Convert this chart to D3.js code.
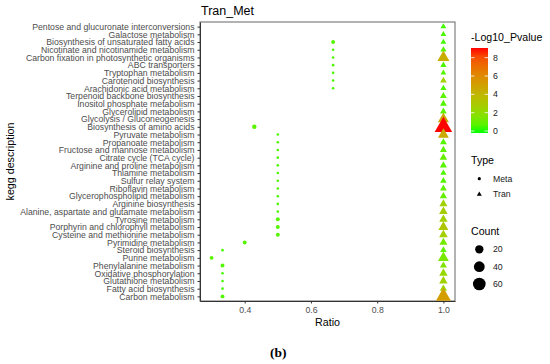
<!DOCTYPE html>
<html>
<head>
<meta charset="utf-8">
<script src="https://cdn.jsdelivr.net/npm/d3@7"></script>
<style>
body { margin: 0; background: #fff; }
text { font-family: "Liberation Sans", Arial, sans-serif; }
</style>
</head>
<body>
<script>
var pathways = ["Pentose and glucuronate interconversions", "Galactose metabolism", "Biosynthesis of unsaturated fatty acids",
	"Nicotinate and nicotinamide metabolism", "Carbon fixation in photosynthetic organisms", "ABC transporters",
	"Tryptophan metabolism", "Carotenoid biosynthesis", "Arachidonic acid metabolism", "Terpenoid backbone biosynthesis",
	"Inositol phosphate metabolism", "Glycerolipid metabolism", "Glycolysis / Gluconeogenesis", "Biosynthesis of amino acids",
	"Pyruvate metabolism", "Propanoate metabolism", "Fructose and mannose metabolism", "Citrate cycle (TCA cycle)",
	"Arginine and proline metabolism", "Thiamine metabolism", "Sulfur relay system", "Riboflavin metabolism",
	"Glycerophospholipid metabolism", "Arginine biosynthesis", "Alanine, aspartate and glutamate metabolism",
	"Tyrosine metabolism", "Porphyrin and chlorophyll metabolism", "Cysteine and methionine metabolism",
	"Pyrimidine metabolism", "Steroid biosynthesis", "Purine metabolism", "Phenylalanine metabolism",
	"Oxidative phosphorylation", "Glutathione metabolism", "Fatty acid biosynthesis", "Carbon metabolism"];

// Meta (metabolite) points
var metaPathways = pathways.slice(2, 9).concat(pathways.slice(13));
var metaRatio = [0.667, 0.667, 0.667, 0.667, 0.667, 0.667, 0.667,
	0.429, 0.5, 0.5, 0.5, 0.5, 0.5, 0.5, 0.5, 0.5, 0.5, 0.5, 0.5, 0.5, 0.5, 0.5,
	0.4, 0.333, 0.3, 0.333, 0.333, 0.333, 0.333, 0.333];
var metaCount = [2, 1, 1, 1, 1, 1, 1,
	3, 1, 1, 1, 1, 1, 1, 1, 1, 1, 1, 1, 2, 2, 2,
	2, 1, 2, 2, 1, 1, 1, 2];
var metaLogP = [0.6, 0.5, 0.5, 0.5, 0.5, 0.5, 0.5,
	0.7, 0.5, 0.5, 0.5, 0.5, 0.5, 0.5, 0.5, 0.5, 0.5, 0.5, 0.5, 0.6, 0.6, 0.6,
	0.6, 0.4, 0.7, 0.6, 0.4, 0.4, 0.4, 0.6];

// Tran (transcript) points, one per pathway
var tranRatio = pathways.map(function(){ return 1.0; });
var tranCount = [5, 5, 5, 6, 38, 6, 5, 7, 6, 8, 8, 8, 32, 99, 30, 8, 9, 11,
	9, 6, 7, 8, 10, 13, 16, 15, 24, 16, 13, 7, 30, 9, 15, 15, 10, 68];
var tranLogP = [0.4, 0.5, 0.4, 0.6, 4.5, 0.5, 0.6, 2.6, 0.5, 0.7, 0.6, 0.7, 4.8, 9.0, 4.6, 0.6, 0.8, 0.9,
	0.7, 0.5, 0.6, 0.8, 0.9, 2.5, 2.8, 2.6, 3.2, 2.7, 1.2, 0.8, 1.3, 1.5, 2.2, 2.5, 2.4, 5.2];

var xTicks = [0.4, 0.6, 0.8, 1.0];
var colorTicks = [0, 2, 4, 6, 8];
var countTicks = [20, 40, 60];
var typeLabels = ["Meta", "Tran"];

var width = 550, height = 364;
var margin = {top: 22, right: 95, bottom: 63, left: 200};

var svg = d3.select("body").append("svg")
	.attr("width", width)
	.attr("height", height);

var x = d3.scaleLinear()
	.domain([0.265, 1.035])
	.range([margin.left, width - margin.right]);

var y = d3.scalePoint()
	.domain(pathways)
	.range([margin.top, height - margin.bottom])
	.padding(0.6);

var color = d3.scaleLinear()
	.domain([0, 9])
	.range(["#00ff00", "#ff0000"])
	.interpolate(d3.interpolateLab);

// ggplot style area scale: size 1..6 over count range
var sizeScale = d3.scaleSqrt().domain([0, 98]).range([1, 6]);
function radius(c){ return 1.3 * sizeScale(c - 1); }
function triArea(c){ var w = 2.25 * radius(c); return Math.sqrt(3) / 4 * w * w; }

// panel
svg.append("rect")
	.attr("x", margin.left)
	.attr("y", margin.top)
	.attr("width", width - margin.right - margin.left)
	.attr("height", height - margin.bottom - margin.top)
	.attr("fill", "none")
	.attr("stroke", "#666")
	.attr("stroke-width", 1);

var meta = metaPathways.map(function(p, i){
	return {path: p, ratio: metaRatio[i], count: metaCount[i], logp: metaLogP[i]};
});
var tran = pathways.map(function(p, i){
	return {path: p, ratio: tranRatio[i], count: tranCount[i], logp: tranLogP[i]};
});

svg.selectAll(".meta")
	.data(meta)
	.enter()
	.append("circle")
	.attr("class", "meta")
	.attr("cx", function(d){ return x(d.ratio); })
	.attr("cy", function(d){ return y(d.path); })
	.attr("r", function(d){ return radius(d.count); })
	.attr("fill", function(d){ return color(d.logp); });

svg.selectAll(".tran")
	.data(tran)
	.enter()
	.append("path")
	.attr("class", "tran")
	.attr("transform", function(d){ return "translate(" + x(d.ratio) + "," + y(d.path) + ")"; })
	.attr("d", function(d){ return d3.symbol(d3.symbolTriangle, triArea(d.count))(); })
	.attr("fill", function(d){ return color(d.logp); });

// axes
var yAxis = svg.append("g")
	.attr("transform", "translate(" + margin.left + ",0)")
	.call(d3.axisLeft(y).tickSize(2.5).tickSizeOuter(0).tickPadding(3));

var xAxis = svg.append("g")
	.attr("transform", "translate(0," + (height - margin.bottom) + ")")
	.call(d3.axisBottom(x).tickValues(xTicks).tickFormat(d3.format(".1f")).tickSize(2.5).tickSizeOuter(0).tickPadding(3.5));

[xAxis, yAxis].forEach(function(g){
	g.select(".domain").attr("stroke", "#333");
	g.selectAll(".tick line").attr("stroke", "#333");
	g.selectAll(".tick text")
		.attr("fill", "#4d4d4d")
		.style("font-size", "8.7px")
		.style("font-family", "'Liberation Sans', Arial, sans-serif");
});

svg.append("text")
	.attr("x", (margin.left + width - margin.right) / 2)
	.attr("y", 326)
	.attr("text-anchor", "middle")
	.style("font-size", "10.7px")
	.text("Ratio");

svg.append("text")
	.attr("transform", "translate(14," + ((margin.top + height - margin.bottom) / 2) + ") rotate(-90)")
	.attr("text-anchor", "middle")
	.style("font-size", "10.7px")
	.text("kegg description");

svg.append("text")
	.attr("x", 201)
	.attr("y", 14.5)
	.style("font-size", "12.5px")
	.text("Tran_Met");

// colour legend
var lx = 471;
svg.append("text").attr("x", lx).attr("y", 40.5).style("font-size", "10.6px").text("-Log10_Pvalue");

var barY = d3.scaleLinear().domain([0, 8]).range([131, 57.7]);
var defs = svg.append("defs");
var grad = defs.append("linearGradient")
	.attr("id", "pgrad")
	.attr("x1", 0).attr("x2", 0).attr("y1", 1).attr("y2", 0);
var v0 = barY.invert(133), v1 = barY.invert(48);
d3.range(0, 1.0001, 0.1).forEach(function(t){
	grad.append("stop")
		.attr("offset", t)
		.attr("stop-color", color(Math.max(0, v0 + t * (v1 - v0))));
});
svg.append("rect")
	.attr("x", lx).attr("y", 48)
	.attr("width", 17).attr("height", 85)
	.attr("fill", "url(#pgrad)");

colorTicks.forEach(function(v){
	svg.append("line").attr("x1", lx).attr("x2", lx + 3.4).attr("y1", barY(v)).attr("y2", barY(v))
		.attr("stroke", "#fff").attr("stroke-width", 0.8);
	svg.append("line").attr("x1", lx + 13.6).attr("x2", lx + 17).attr("y1", barY(v)).attr("y2", barY(v))
		.attr("stroke", "#fff").attr("stroke-width", 0.8);
	svg.append("text").attr("x", 493).attr("y", barY(v)).attr("dy", "0.35em")
		.style("font-size", "8.7px").attr("fill", "#1a1a1a").text(v);
});

// type legend
svg.append("text").attr("x", lx).attr("y", 164).style("font-size", "10.6px").text("Type");
var typeY = [178.7, 194.3];
svg.append("circle").attr("cx", 479.3).attr("cy", typeY[0]).attr("r", 1.6).attr("fill", "#000");
svg.append("path").attr("transform", "translate(479.3," + typeY[1] + ")")
	.attr("d", d3.symbol(d3.symbolTriangle, Math.sqrt(3) / 4 * 25)()).attr("fill", "#000");
typeLabels.forEach(function(t, i){
	svg.append("text").attr("x", 493).attr("y", typeY[i]).attr("dy", "0.35em")
		.style("font-size", "8.7px").attr("fill", "#1a1a1a").text(t);
});

// count legend
svg.append("text").attr("x", lx).attr("y", 234.5).style("font-size", "10.6px").text("Count");
var countY = [249.3, 266.7, 284];
countTicks.forEach(function(c, i){
	svg.append("circle").attr("cx", 479.3).attr("cy", countY[i]).attr("r", radius(c)).attr("fill", "#000");
	svg.append("text").attr("x", 493).attr("y", countY[i]).attr("dy", "0.35em")
		.style("font-size", "8.7px").attr("fill", "#1a1a1a").text(c);
});

svg.append("text")
	.attr("x", 270)
	.attr("y", 356.5)
	.style("font-family", "'Liberation Serif', 'Times New Roman', serif")
	.style("font-weight", "bold")
	.style("font-size", "13.5px")
	.text("(b)");
</script>
</body>
</html>
